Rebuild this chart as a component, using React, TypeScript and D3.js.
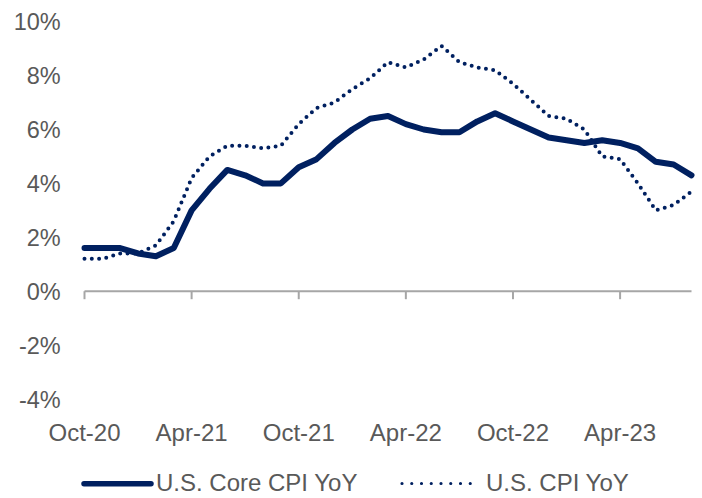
import React from "react";
import * as d3 from "d3";

const months = [
  "Oct-20","Nov-20","Dec-20","Jan-21","Feb-21","Mar-21","Apr-21","May-21","Jun-21","Jul-21","Aug-21","Sep-21",
  "Oct-21","Nov-21","Dec-21","Jan-22","Feb-22","Mar-22","Apr-22","May-22","Jun-22","Jul-22","Aug-22","Sep-22",
  "Oct-22","Nov-22","Dec-22","Jan-23","Feb-23","Mar-23","Apr-23","May-23","Jun-23","Jul-23","Aug-23",
];
const coreCpi = [
  1.6,1.6,1.6,1.4,1.3,1.6,3.0,3.8,4.5,4.3,4.0,4.0,
  4.6,4.9,5.5,6.0,6.4,6.5,6.2,6.0,5.9,5.9,6.3,6.6,
  6.3,6.0,5.7,5.6,5.5,5.6,5.5,5.3,4.8,4.7,4.3,
];
const cpi = [
  1.2,1.2,1.4,1.4,1.7,2.6,4.2,5.0,5.4,5.4,5.3,5.4,
  6.2,6.8,7.0,7.5,7.9,8.5,8.3,8.6,9.1,8.5,8.3,8.2,
  7.7,7.1,6.5,6.4,6.0,5.0,4.9,4.0,3.0,3.2,3.7,
];
const xTickLabels = ["Oct-20","Apr-21","Oct-21","Apr-22","Oct-22","Apr-23"];
const yTicks = [-4,-2,0,2,4,6,8,10];
const seriesNames = ["U.S. Core CPI YoY","U.S. CPI YoY"];

const W = 702, H = 498;
const NAVY = "#002060";
const GREY = "#595959";
const FONT = "'Liberation Sans', Arial, sans-serif";

export default function App() {
  const x = d3.scaleLinear().domain([0, months.length - 1]).range([84.5, 691.5]);
  const y = d3.scaleLinear().domain([-4, 10]).range([399, 21.7]);
  const line = d3.line<number>().x((_, i) => x(i)).y((d) => y(d));
  const tickIdx = xTickLabels.map((l) => months.indexOf(l));

  return (
    <div style={{ position: "absolute", left: 0, top: 0 }}>
      <svg width={W} height={H} style={{ display: "block", background: "#fff" }}>
        {yTicks.map((t) => (
          <text key={t} x={60.7} y={y(t) + 8.5} textAnchor="end" fontFamily={FONT} fontSize={23.5} fill={GREY}>
            {t}%
          </text>
        ))}
        <line x1={x(0)} x2={x(months.length - 1)} y1={y(0)} y2={y(0)} stroke="#a6a6a6" strokeWidth={2} />
        {tickIdx.map((i) => (
          <line key={i} x1={x(i)} x2={x(i)} y1={y(0)} y2={y(0) + 8} stroke="#a6a6a6" strokeWidth={2} />
        ))}
        {tickIdx.map((i, k) => (
          <text key={k} x={x(i)} y={441} textAnchor="middle" fontFamily={FONT} fontSize={24} fill={GREY}>
            {xTickLabels[k]}
          </text>
        ))}
        <path d={line(cpi) || ""} fill="none" stroke={NAVY} strokeWidth={4} strokeDasharray="0 7.3" strokeLinecap="round" />
        <path d={line(coreCpi) || ""} fill="none" stroke={NAVY} strokeWidth={6} strokeLinejoin="round" strokeLinecap="round" />
        {/* legend */}
        <line x1={84} x2={151} y1={483.7} y2={483.7} stroke={NAVY} strokeWidth={5.5} strokeLinecap="round" />
        <text x={156} y={490.5} fontFamily={FONT} fontSize={24} fill={GREY}>{seriesNames[0]}</text>
        <line x1={402} x2={480} y1={483.5} y2={483.5} stroke={NAVY} strokeWidth={3.2} strokeDasharray="0 9.75" strokeLinecap="round" />
        <text x={486} y={490.5} fontFamily={FONT} fontSize={24} fill={GREY}>{seriesNames[1]}</text>
      </svg>
    </div>
  );
}
